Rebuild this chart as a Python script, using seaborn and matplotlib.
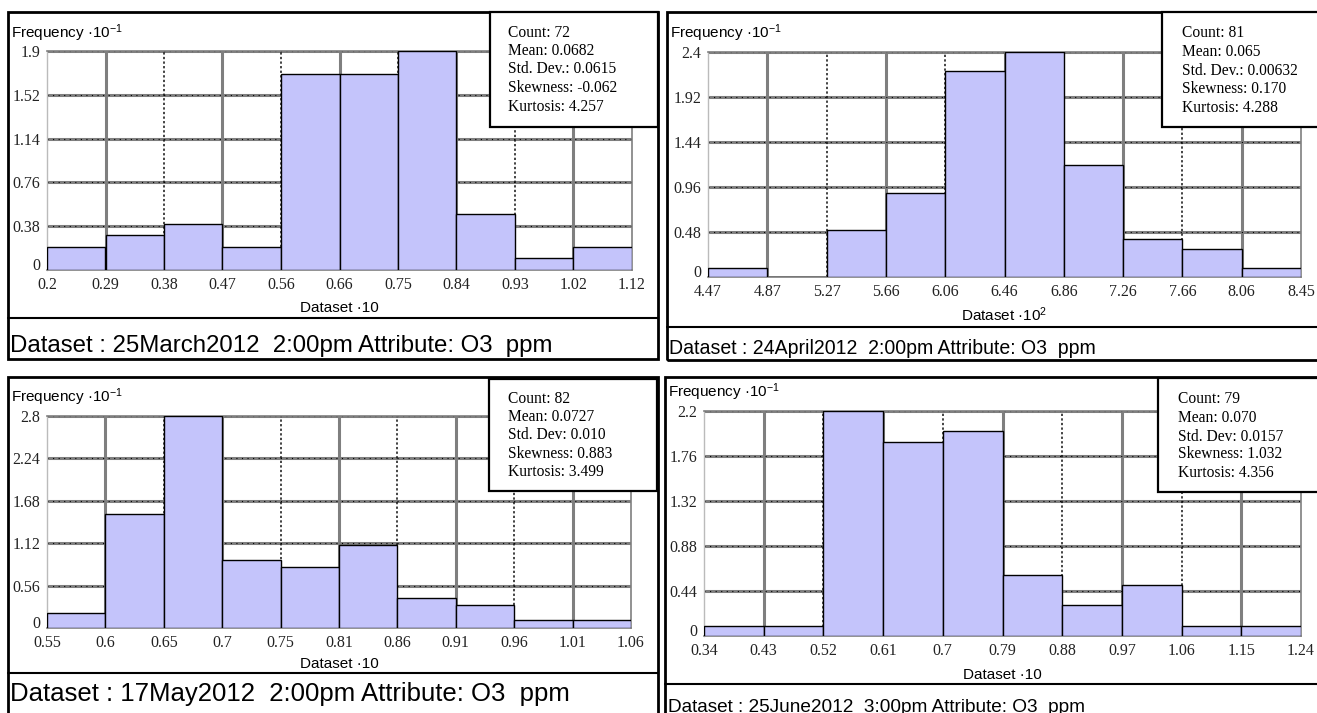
import numpy as np
import pandas as pd
import matplotlib
matplotlib.use("Agg")
import matplotlib.pyplot as plt
import seaborn as sns
from matplotlib.patches import Rectangle
from matplotlib.lines import Line2D

# ---------------- data ----------------
mar_xticks = ["0.2", "0.29", "0.38", "0.47", "0.56", "0.66", "0.75", "0.84", "0.93", "1.02", "1.12"]
mar_heights = [0.2, 0.3, 0.4, 0.2, 1.7, 1.7, 1.9, 0.49, 0.1, 0.2]
mar_yticks = ["0", "0.38", "0.76", "1.14", "1.52", "1.9"]
mar_stats = ["Count: 72", "Mean: 0.0682", "Std. Dev.: 0.0615", "Skewness: -0.062", "Kurtosis: 4.257"]
mar_xlabel = "Dataset ·10"
mar_title = "Dataset : 25March2012  2:00pm Attribute: O3  ppm"

apr_xticks = ["4.47", "4.87", "5.27", "5.66", "6.06", "6.46", "6.86", "7.26", "7.66", "8.06", "8.45"]
apr_heights = [0.1, 0.0, 0.5, 0.9, 2.2, 2.4, 1.2, 0.4, 0.3, 0.1]
apr_yticks = ["0", "0.48", "0.96", "1.44", "1.92", "2.4"]
apr_stats = ["Count: 81", "Mean: 0.065", "Std. Dev.: 0.00632", "Skewness: 0.170", "Kurtosis: 4.288"]
apr_xlabel = "Dataset ·$10^{2}$"
apr_title = "Dataset : 24April2012  2:00pm Attribute: O3  ppm"

may_xticks = ["0.55", "0.6", "0.65", "0.7", "0.75", "0.81", "0.86", "0.91", "0.96", "1.01", "1.06"]
may_heights = [0.2, 1.5, 2.8, 0.9, 0.8, 1.1, 0.39, 0.3, 0.1, 0.1]
may_yticks = ["0", "0.56", "1.12", "1.68", "2.24", "2.8"]
may_stats = ["Count: 82", "Mean: 0.0727", "Std. Dev: 0.010", "Skewness: 0.883", "Kurtosis: 3.499"]
may_xlabel = "Dataset ·10"
may_title = "Dataset : 17May2012  2:00pm Attribute: O3  ppm"

jun_xticks = ["0.34", "0.43", "0.52", "0.61", "0.7", "0.79", "0.88", "0.97", "1.06", "1.15", "1.24"]
jun_heights = [0.1, 0.1, 2.2, 1.9, 2.0, 0.6, 0.3, 0.5, 0.1, 0.1]
jun_yticks = ["0", "0.44", "0.88", "1.32", "1.76", "2.2"]
jun_stats = ["Count: 79", "Mean: 0.070", "Std. Dev: 0.0157", "Skewness: 1.032", "Kurtosis: 4.356"]
jun_xlabel = "Dataset ·10"
jun_title = "Dataset : 25June2012  3:00pm Attribute: O3  ppm"

ylabel_text = "Frequency ·$10^{-1}$"

# ---------------- style ----------------
sns.set_theme(style="white")
plt.rcParams["font.family"] = ["Liberation Sans", "DejaVu Sans"]
plt.rcParams["mathtext.fontset"] = "custom"
plt.rcParams["mathtext.rm"] = "Liberation Sans"
plt.rcParams["mathtext.default"] = "regular"
plt.rcParams["text.color"] = "black"
plt.rcParams["xtick.color"] = "black"
plt.rcParams["ytick.color"] = "black"

W, H = 1317, 713
fig = plt.figure(figsize=(W / 100, H / 100), dpi=100)
fig.patch.set_facecolor("white")

BAR = "#c4c4fb"
GRID = "#7f7f7f"
SERIF = ["Liberation Serif", "DejaVu Serif"]
TICK_COLOR = "#222222"


def fx(x):
    return x / W


def fy(y):
    return 1 - y / H


def frame_rect(x0, y0, x1, y1, lw=2.0, fc="none", z=1):
    fig.add_artist(Rectangle((fx(x0), fy(y1)), fx(x1) - fx(x0), fy(y0) - fy(y1),
                             transform=fig.transFigure, fill=(fc != "none"),
                             facecolor=fc if fc != "none" else "white",
                             edgecolor="black", linewidth=lw, zorder=z))


def hline(x0, x1, y, lw=1.5):
    fig.add_artist(Line2D([fx(x0), fx(x1)], [fy(y), fy(y)], transform=fig.transFigure,
                          color="black", linewidth=lw, zorder=2))


panels = [
    dict(xt=mar_xticks, h=mar_heights, yt=mar_yticks, st=mar_stats, xl=mar_xlabel, title=mar_title,
         frame=(8, 12, 658, 359), sep=318, ax=(47, 51, 632, 270), box=(490, 12, 658, 127),
         stx=508, sty=[33, 51, 69, 88, 107], ylab=(11, 33), xly=308, tt=(10, 346, 17.3)),
    dict(xt=apr_xticks, h=apr_heights, yt=apr_yticks, st=apr_stats, xl=apr_xlabel, title=apr_title,
         frame=(667, 12, 1320, 360), sep=327, ax=(708, 52, 1301, 277), box=(1162, 12, 1320, 127),
         stx=1182, sty=[33, 52, 71, 89, 108], ylab=(670, 33), xly=315, tt=(669, 348, 14.05)),
    dict(xt=may_xticks, h=may_heights, yt=may_yticks, st=may_stats, xl=may_xlabel, title=may_title,
         frame=(8, 377, 658, 716), sep=673, ax=(47, 416, 631, 628), box=(489, 379, 657, 491),
         stx=508, sty=[399, 417, 435, 454, 472], ylab=(11, 397), xly=664, tt=(10, 694, 18.5)),
    dict(xt=jun_xticks, h=jun_heights, yt=jun_yticks, st=jun_stats, xl=jun_xlabel, title=jun_title,
         frame=(665, 377, 1320, 716), sep=684, ax=(704, 411, 1301, 636), box=(1158, 378, 1320, 492),
         stx=1178, sty=[399, 418, 437, 454, 473], ylab=(668, 392), xly=675, tt=(668, 707, 13.65)),
]

for p in panels:
    fx0, fy0, fx1, fy1 = p["frame"]
    frame_rect(fx0, fy0, fx1, fy1, lw=2.0)
    hline(fx0, fx1, p["sep"], lw=1.5)

    ax0, ay0, ax1, ay1 = p["ax"]
    ax = fig.add_axes([fx(ax0), fy(ay1), fx(ax1) - fx(ax0), fy(ay0) - fy(ay1)])
    ax.set_facecolor("white")

    edges = np.linspace(float(p["xt"][0]), float(p["xt"][-1]), len(p["xt"]))
    centers = (edges[:-1] + edges[1:]) / 2
    df = pd.DataFrame({"x": centers, "w": p["h"]})
    sns.histplot(data=df, x="x", weights="w", bins=[float(e) for e in edges], ax=ax, color=BAR,
                 edgecolor="black", linewidth=1.0, alpha=1.0, zorder=3)

    yvals = [float(t) for t in p["yt"]]
    ax.set_xlim(edges[0], edges[-1])
    ax.set_ylim(0, yvals[-1])
    ax.set_xticks(edges)
    ax.set_xticklabels(p["xt"], fontfamily=SERIF, fontsize=11.5, color=TICK_COLOR)
    ax.set_yticks(yvals)
    ylabels = ax.set_yticklabels(p["yt"], fontfamily=SERIF, fontsize=11.5, color=TICK_COLOR)
    ylabels[0].set_verticalalignment("baseline")
    ax.tick_params(axis="x", length=0, pad=5)
    ax.tick_params(axis="y", length=0, pad=5)
    ax.set_xlabel("")
    ax.set_ylabel("")

    # grid: horizontal
    for v in yvals[1:]:
        ax.axhline(v, color=GRID, lw=2.2, zorder=1)
        ax.axhline(v, color="black", lw=0.8, ls=(0, (1, 4)), zorder=1.5)
    # grid: vertical alternating
    for i, e in enumerate(edges[1:-1], start=1):
        if i % 2 == 1:
            ax.axvline(e, color=GRID, lw=2.2, zorder=1)
        else:
            ax.axvline(e, color="#111111", lw=1.1, ls=(0, (1.5, 1.5)), zorder=1)
    for s in ax.spines.values():
        s.set_color(GRID)
        s.set_linewidth(1.2)
    ax.spines["left"].set_color("#bbbbbb")
    ax.spines["left"].set_linewidth(1.0)

    # labels
    lx, ly = p["ylab"]
    fig.text(fx(lx), fy(ly), ylabel_text, ha="left", va="center", fontsize=11)
    fig.text(fx((ax0 + ax1) / 2), fy(p["xly"]), p["xl"], ha="center", va="center", fontsize=11)
    tx, ty, ts = p["tt"]
    fig.text(fx(tx), fy(ty), p["title"], ha="left", va="center", fontsize=ts)

    # stats box
    bx0, by0, bx1, by1 = p["box"]
    frame_rect(bx0, by0, bx1, by1, lw=1.6, fc="white", z=5)
    for line, yy in zip(p["st"], p["sty"]):
        t = fig.text(fx(p["stx"]), fy(yy), line, ha="left", va="center",
                     fontsize=11.2, fontfamily=SERIF)
        t.set_zorder(6)

fig.savefig("out.png", dpi=100, facecolor="white")
